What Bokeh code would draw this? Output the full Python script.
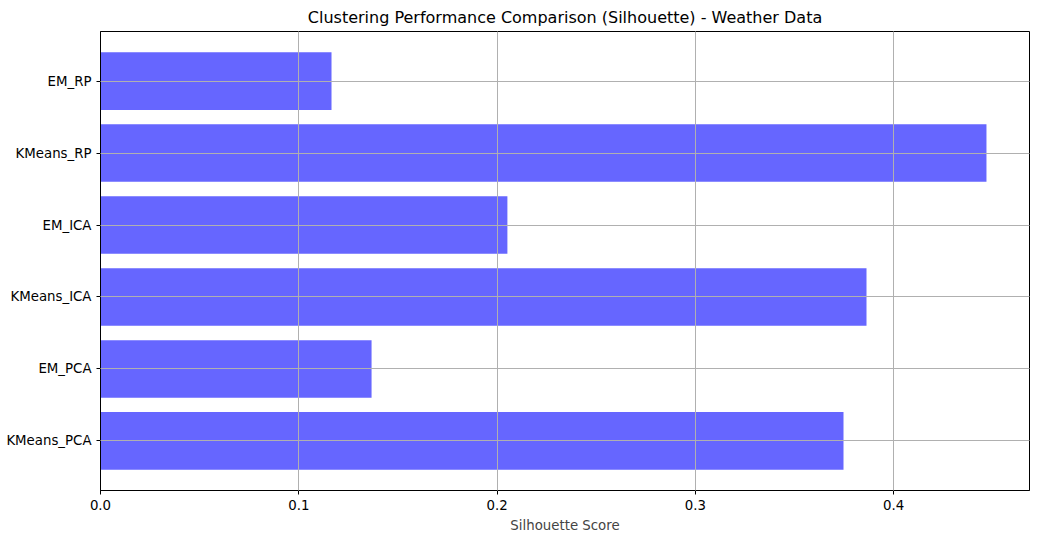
from bokeh.plotting import figure
from bokeh.models import FixedTicker, Range1d
from bokeh.embed import file_html
from bokeh.resources import INLINE

methods = ["KMeans_PCA", "EM_PCA", "KMeans_ICA", "EM_ICA", "KMeans_RP", "EM_RP"]
scores = [0.3747, 0.1367, 0.3863, 0.2052, 0.4468, 0.1165]
xticks = [0.0, 0.1, 0.2, 0.3, 0.4]

ypos = list(range(len(methods)))

p = figure(frame_width=929, frame_height=459, output_backend="svg", toolbar_location=None,
           title="Clustering Performance Comparison (Silhouette) - Weather Data",
           x_range=Range1d(0, 0.4685), y_range=Range1d(-0.69, 5.69),
           min_border_left=100, min_border_right=3, min_border_bottom=40, min_border_top=10)
p.hbar(y=ypos, right=scores, left=0, height=0.8, color="#6666ff", line_color=None)

p.title.align = "center"
p.title.text_font = "DejaVu Sans"
p.title.text_font_size = "12pt"
p.title.text_font_style = "normal"
p.title.text_color = "black"

p.xaxis.ticker = FixedTicker(ticks=xticks)
p.xaxis.major_label_overrides = {t: f"{t:.1f}" for t in xticks}
p.xaxis.axis_label = "Silhouette Score"
p.yaxis.ticker = FixedTicker(ticks=ypos)
p.yaxis.major_label_overrides = {i: m for i, m in enumerate(methods)}
for ax in (p.xaxis, p.yaxis):
    ax.major_label_text_font = "DejaVu Sans"
    ax.major_label_text_font_size = "10pt"
    ax.major_label_text_color = "black"
    ax.axis_label_text_font = "DejaVu Sans"
    ax.axis_label_text_font_size = "10pt"
    ax.axis_label_text_font_style = "normal"
    ax.minor_tick_line_color = None
    ax.major_tick_out = 4
    ax.major_tick_in = 0
    ax.axis_line_color = "black"
    ax.major_tick_line_color = "black"

for g in (p.xgrid, p.ygrid):
    g.grid_line_color = "#b0b0b0"
    g.grid_line_width = 1
    g.level = "overlay"

p.outline_line_color = "black"
p.outline_line_alpha = 1

open("out.html", "w").write(file_html(p, INLINE))
